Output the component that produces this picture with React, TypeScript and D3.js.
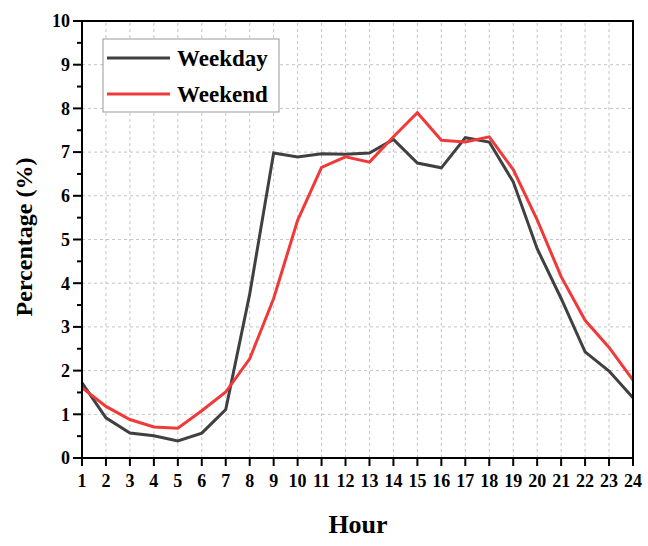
import { useEffect } from "react";
import * as d3 from "d3";

const hours = d3.range(1, 25);
const weekday = [1.72, 0.92, 0.57, 0.51, 0.39, 0.57, 1.11, 3.75, 6.98, 6.89, 6.96, 6.95, 6.98, 7.29, 6.75, 6.64, 7.33, 7.23, 6.32, 4.79, 3.65, 2.43, 1.99, 1.38];
const weekend = [1.61, 1.18, 0.88, 0.71, 0.68, 1.08, 1.51, 2.27, 3.65, 5.44, 6.65, 6.89, 6.77, 7.35, 7.9, 7.27, 7.23, 7.35, 6.6, 5.45, 4.15, 3.15, 2.53, 1.78];
const yTicks = d3.range(0, 11);
const series = [
  { label: "Weekday", color: "#404040", values: weekday },
  { label: "Weekend", color: "#f03a3a", values: weekend },
];

const W = 648, H = 546;
const m = { left: 82, right: 15, top: 21, bottom: 88 };
const font = "'Liberation Serif', 'Times New Roman', serif";

export default function App() {
  useEffect(() => { document.body.style.margin = "0"; }, []);

  const x = d3.scaleLinear().domain([1, 24]).range([m.left, W - m.right]);
  const y = d3.scaleLinear().domain([0, 10]).range([H - m.bottom, m.top]);
  const minor = d3.range(0.5, 10, 1);

  const line = (vals: number[]) =>
    d3.line<number>().x((_, i) => x(hours[i])).y(v => y(v))(vals) ?? "";

  return (
    <svg width={W} height={H} style={{ display: "block", background: "#fff" }} fontFamily={font} fontWeight="bold">
      {/* grid */}
      {hours.slice(1, -1).map(h => (
        <line key={"gx" + h} x1={x(h)} x2={x(h)} y1={y(0)} y2={y(10)} stroke="#c4c4c4" strokeDasharray="3,3" />
      ))}
      {yTicks.slice(1, -1).map(t => (
        <line key={"gy" + t} x1={x(1)} x2={x(24)} y1={y(t)} y2={y(t)} stroke="#c4c4c4" strokeDasharray="3,3" />
      ))}

      {/* lines */}
      {series.map(s => (
        <path key={s.label} d={line(s.values)} fill="none" stroke={s.color} strokeWidth={3} strokeLinejoin="miter" />
      ))}

      {/* frame */}
      <rect x={x(1)} y={y(10)} width={x(24) - x(1)} height={y(0) - y(10)} fill="none" stroke="#000" strokeWidth={2} />

      {/* y ticks */}
      {yTicks.map(t => (
        <g key={"yt" + t}>
          <line x1={x(1) - 9} x2={x(1)} y1={y(t)} y2={y(t)} stroke="#000" strokeWidth={2} />
          <text x={x(1) - 12} y={y(t)} dy="0.35em" textAnchor="end" fontSize={18}>{t}</text>
        </g>
      ))}
      {minor.map(t => (
        <line key={"ym" + t} x1={x(1) - 5} x2={x(1)} y1={y(t)} y2={y(t)} stroke="#000" strokeWidth={2} />
      ))}

      {/* x ticks */}
      {hours.map(h => (
        <g key={"xt" + h}>
          <line x1={x(h)} x2={x(h)} y1={y(0)} y2={y(0) + 8} stroke="#000" strokeWidth={2} />
          <text x={x(h)} y={487} textAnchor="middle" fontSize={18}>{h}</text>
        </g>
      ))}

      {/* axis titles */}
      <text x={358} y={533} textAnchor="middle" fontSize={26}>Hour</text>
      <text transform={`translate(32,237) rotate(-90)`} textAnchor="middle" fontSize={24}>Percentage (%)</text>

      {/* legend */}
      <rect x={103} y={39} width={176} height={73} fill="#fff" stroke="#999" strokeWidth={1} />
      {series.map((s, i) => (
        <g key={"lg" + s.label} transform={`translate(0,${58 + i * 36})`}>
          <line x1={107} x2={170} y1={0} y2={0} stroke={s.color} strokeWidth={3} />
          <text x={177} y={0} dy="0.35em" fontSize={23}>{s.label}</text>
        </g>
      ))}
    </svg>
  );
}
